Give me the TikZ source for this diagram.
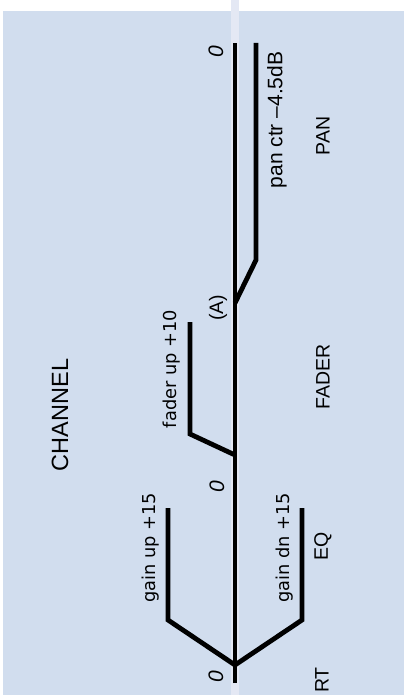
\documentclass[tikz,border=0pt]{standalone}
\usepackage{fontspec}
\setmainfont{Liberation Sans}
\newfontfamily\notefont{DejaVu Sans}
\usepackage{tikz}
\usetikzlibrary{positioning}
\definecolor{panel}{RGB}{209,221,238}
\definecolor{strip}{RGB}{228,232,244}

\begin{document}
\begin{tikzpicture}[x=1pt,y=-1pt,
    level/.style={line width=4.8pt, line join=miter},
    stage/.style={rotate=90, inner sep=0pt, font=\fontsize{19.5}{22}\selectfont},
    note/.style={rotate=90, inner sep=0pt, font=\notefont\fontsize{17.8}{20}\selectfont},
    zero/.style={rotate=90, inner sep=0pt, font=\itshape\fontsize{21}{24}\selectfont}]
    \useasboundingbox (0,0) rectangle (406,695);
    \fill[panel] (3,11) rectangle (404,695);
    \fill[strip] (231,0) rectangle (239,695);

    % main signal line and the branches
    \coordinate (start) at (235,683);
    \coordinate (stop) at (235,43);
    \coordinate (split) at (235,665);
    \coordinate (fade) at (235,455);
    \coordinate (A) at (235,303);
    \draw[level] (start) -- (stop);
    \draw[level] (split) -- (168,620) coordinate (gup) -- (168,508) coordinate (gupend);
    \draw[level] (split) -- (302,620) coordinate (gdn) -- (302,508) coordinate (gdnend);
    \draw[level] (fade) -- (190,434) coordinate (fup) -- (190,322) coordinate (fupend);
    \draw[level] (A) -- (256,260) coordinate (pan) -- (256,43) coordinate (panend);

    % labels
    \node[rotate=90, font=\fontsize{23.5}{26}\selectfont] (channel) at (60,415) {CHANNEL};
    \node[note] (gainup) at (151,548) {gain up +15};
    \node[note] (gaindn) at (285,548) {gain dn +15};
    \node[note] (faderup) at (172,369) {fader up +10};
    \node[rotate=90, inner sep=0pt, font=\fontsize{21}{24}\selectfont] (panctr) at (277,120) {pan ctr –4.5dB};
    \node[stage] (eq) at (323,546) {EQ};
    \node[stage] (fader) at (323,377) {FADER};
    \node[stage] (pan) at (323,136) {PAN};
    \node[stage] (rt) at (322,680) {RT};
    \node[stage] (alabel) at (218,308) {(A)};
    \node[zero] (z1) at (216,677) {0};
    \node[zero] (z2) at (217,487) {0};
    \node[zero] (z3) at (216,52) {0};
\end{tikzpicture}
\end{document}
